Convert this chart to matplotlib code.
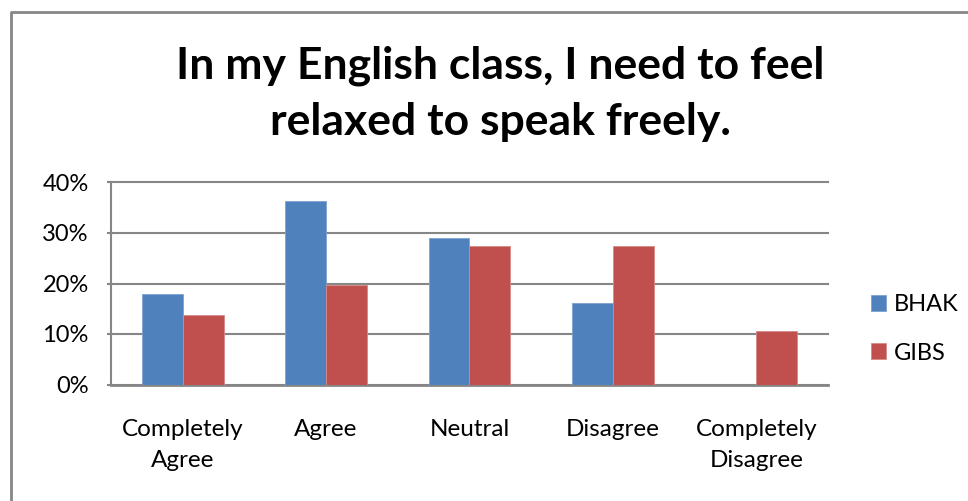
import matplotlib.pyplot as plt
from matplotlib.lines import Line2D
from matplotlib.ticker import PercentFormatter
import numpy as np

plt.rcParams['font.family'] = ['Lato', 'DejaVu Sans']

categories = ["Completely\nAgree", "Agree", "Neutral", "Disagree", "Completely\nDisagree"]
bhak = [18.0, 36.3, 29.1, 16.2, 0.0]
gibs = [13.7, 19.8, 27.5, 27.5, 10.6]
series_names = ["BHAK", "GIBS"]
title = "In my English class, I need to feel\nrelaxed to speak freely."

W, H = 968, 501
GRID = "#868686"
BLUE = "#4F81BD"
RED = "#C0504D"

fig = plt.figure(figsize=(W / 100, H / 100), dpi=100)

# plot area placed in pixel units
left, right, top, bottom = 111, 828, 182.5, 384.5
ax = fig.add_axes([left / W, 1 - bottom / H, (right - left) / W, (bottom - top) / H])

x = np.arange(len(categories))
w = 1 / 3.5
ax.bar(x - w / 2, bhak, w, color=BLUE, edgecolor="#7DA2D0", linewidth=0.6,
       label=series_names[0], zorder=3)
ax.bar(x + w / 2, gibs, w, color=RED, edgecolor="#D48A88", linewidth=0.6,
       label=series_names[1], zorder=3)

ax.set_xlim(-0.5, len(categories) - 0.5)
ax.set_ylim(0, 40)
ax.set_yticks(np.arange(0, 41, 10))
ax.yaxis.set_major_formatter(PercentFormatter(decimals=0))
ax.set_xticks(x)
ax.set_xticklabels(categories, linespacing=1.6)

ax.grid(axis="y", color=GRID, linewidth=1.5, zorder=0)
for gl in ax.get_ygridlines():
    gl.set_clip_on(False)
for side in ("top", "right"):
    ax.spines[side].set_visible(False)
for side in ("left", "bottom"):
    ax.spines[side].set_color(GRID)
ax.spines["left"].set_linewidth(1.5)
ax.spines["bottom"].set_linewidth(2)
ax.tick_params(axis="y", length=3, width=1.5, color=GRID, pad=13, labelsize=17)
ax.tick_params(axis="x", length=0, pad=25, labelsize=17.5)

fig.text(500 / W, 1 - 45 / H, title, ha="center", va="top", fontsize=32,
         fontweight="bold", linespacing=1.5)

ax.legend(loc="center left", bbox_to_anchor=(871 / W, 1 - 329 / H),
          bbox_transform=fig.transFigure, frameon=False, fontsize=17,
          borderpad=0, borderaxespad=0,
          handlelength=0.65, handleheight=0.65, handletextpad=0.3,
          labelspacing=1.15)

# outer chart frame, running off the right and bottom edges
fig.add_artist(Line2D([11 / W, 11 / W, 1.0], [0.0, 1 - 12 / H, 1 - 12 / H],
                      transform=fig.transFigure, color=GRID, linewidth=2))

fig.savefig("out.png", dpi=100)
